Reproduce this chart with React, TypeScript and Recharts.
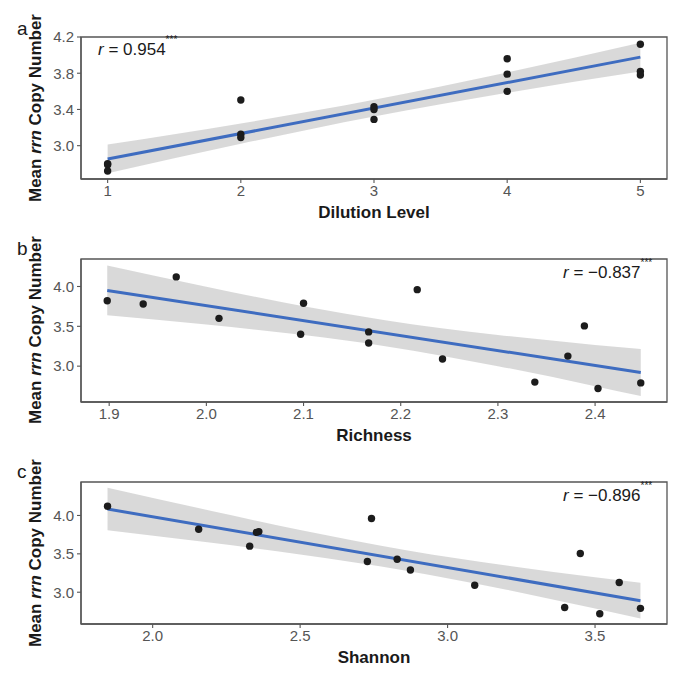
import React from 'react';
import { ComposedChart, XAxis, YAxis, Scatter, Line, Area, ReferenceArea } from 'recharts';

// 15 samples, 3 per dilution level
const dilution = [1, 1, 1, 2, 2, 2, 3, 3, 3, 4, 4, 4, 5, 5, 5];
const richness = [2.338, 2.447, 2.403, 2.389, 2.372, 2.243, 2.167, 2.097, 2.167, 2.217, 2.1, 2.013, 1.969, 1.898, 1.935];
const shannon = [3.397, 3.654, 3.516, 3.45, 3.582, 3.092, 2.829, 2.728, 2.874, 2.742, 2.36, 2.329, 1.847, 2.156, 2.352];
const copyNumber = [2.8, 2.79, 2.72, 3.505, 3.126, 3.09, 3.43, 3.4, 3.29, 3.96, 3.79, 3.6, 4.12, 3.82, 3.78];

// fitted lines (ends) and confidence bands
const fitAX = [1, 5];
const fitAY = [2.853, 3.978];
const bandAX = [1, 2, 3, 4, 5];
const bandALow = [2.695, 3.021, 3.323, 3.584, 3.819];
const bandAHigh = [3.012, 3.245, 3.507, 3.808, 4.137];

const fitBX = [1.898, 2.447];
const fitBY = [3.95, 2.92];
const bandBX = [1.898, 2.0, 2.1, 2.184, 2.3, 2.4, 2.447];
const bandBLow = [3.638, 3.522, 3.39, 3.251, 3.0, 2.749, 2.625];
const bandBHigh = [4.263, 3.996, 3.752, 3.577, 3.392, 3.267, 3.215];

const fitCX = [1.847, 3.654];
const fitCY = [4.084, 2.89];
const bandCX = [1.847, 2.2, 2.5, 2.86, 3.2, 3.5, 3.654];
const bandCLow = [3.806, 3.643, 3.493, 3.281, 3.033, 2.787, 2.657];
const bandCHigh = [4.362, 4.059, 3.811, 3.548, 3.347, 3.195, 3.123];

const ticksA = [1, 2, 3, 4, 5];
const ticksB = [1.9, 2.0, 2.1, 2.2, 2.3, 2.4];
const ticksC = [2.0, 2.5, 3.0, 3.5];
const yTicksA = [3.0, 3.4, 3.8, 4.2];
const yTicksBC = [3.0, 3.5, 4.0];

const FONT = '"Liberation Sans", Arial, sans-serif';
const AXIS = '#555';

const Dot = (p: any) => <circle cx={p.cx} cy={p.cy} r={3.7} fill="#1c1c1c" />;

function Panel(props: any) {
  const { xs, fitX, fitY, bandX, bandLo, bandHi, xDomain, xTicks, yDomain, yTicks, top, height, digits } = props;
  const pts = xs.map((x: number, i: number) => ({ x, y: copyNumber[i] }));
  const fit = fitX.map((x: number, i: number) => ({ x, y: fitY[i] }));
  const band = bandX.map((x: number, i: number) => ({ x, range: [bandLo[i], bandHi[i]] }));
  const tick = { fill: AXIS, fontSize: 15, fontFamily: FONT };
  return (
    <div style={{ position: 'absolute', left: 0, top }}>
      <ComposedChart width={685} height={height} margin={{ top: 37, right: 18, bottom: 0, left: 0 }}>
        <XAxis type="number" dataKey="x" domain={xDomain} ticks={xTicks} allowDataOverflow
          tickFormatter={(v: number) => (digits ? v.toFixed(digits) : String(v))}
          height={21} tick={tick} tickSize={4} tickMargin={2}
          axisLine={{ stroke: AXIS, strokeWidth: 1.3 }} tickLine={{ stroke: AXIS, strokeWidth: 1.1 }} />
        <YAxis type="number" domain={yDomain} ticks={yTicks} allowDataOverflow
          tickFormatter={(v: number) => v.toFixed(1)}
          width={81} tick={tick} tickSize={4} tickMargin={3}
          axisLine={{ stroke: AXIS, strokeWidth: 1.3 }} tickLine={{ stroke: AXIS, strokeWidth: 1.1 }} />
        <Scatter data={pts} dataKey="y" shape={Dot} isAnimationActive={false} />
        <Area data={band} dataKey="range" type="monotone" stroke="none" fill="#999999" fillOpacity={0.37} isAnimationActive={false} />
        <Line data={fit} dataKey="y" type="linear" stroke="#3E6CC0" strokeWidth={3} dot={false} isAnimationActive={false} />
        <ReferenceArea x1={xDomain[0]} x2={xDomain[1]} y1={yDomain[0]} y2={yDomain[1]} fill="none" stroke={AXIS} strokeWidth={1.3} ifOverflow="visible" />
      </ComposedChart>
    </div>
  );
}

function YTitle({ cy }: { cy: number }) {
  return (
    <text transform={`translate(41,${cy}) rotate(-90)`} textAnchor="middle" fontSize={17} fontWeight="bold" fill="#1a1a1a">
      Mean <tspan fontStyle="italic">rrn</tspan> Copy Number
    </text>
  );
}

function RText({ x, y, value }: { x: number; y: number; value: string }) {
  return (
    <text x={x} y={y} fontSize={17} fill="#1a1a1a">
      <tspan fontStyle="italic">r</tspan> = {value}
      <tspan fontSize={10} dy={-12}>***</tspan>
    </text>
  );
}

export default function App() {
  return (
    <div style={{ position: 'absolute', left: 0, top: 0, width: 685, height: 685, background: '#fff', fontFamily: FONT }}>
      <Panel xs={dilution} fitX={fitAX} fitY={fitAY} bandX={bandAX} bandLo={bandALow} bandHi={bandAHigh}
        xDomain={[0.8, 5.2]} xTicks={ticksA} yDomain={[2.632, 4.2]} yTicks={yTicksA} top={0} height={200} digits={0} />
      <Panel xs={richness} fitX={fitBX} fitY={fitBY} bandX={bandBX} bandLo={bandBLow} bandHi={bandBHigh}
        xDomain={[1.871, 2.474]} xTicks={ticksB} yDomain={[2.55, 4.345]} yTicks={yTicksBC} top={222} height={201} digits={1} />
      <Panel xs={shannon} fitX={fitCX} fitY={fitCY} bandX={bandCX} bandLo={bandCLow} bandHi={bandCHigh}
        xDomain={[1.757, 3.744]} xTicks={ticksC} yDomain={[2.586, 4.436]} yTicks={yTicksBC} top={445} height={200} digits={1} />
      <svg width={685} height={685} style={{ position: 'absolute', left: 0, top: 0, pointerEvents: 'none' }} fontFamily={FONT}>
        <text x={17} y={35} fontSize={19} fill="#1a1a1a">a</text>
        <text x={17} y={255} fontSize={19} fill="#1a1a1a">b</text>
        <text x={17} y={478} fontSize={19} fill="#1a1a1a">c</text>
        <YTitle cy={108} />
        <YTitle cy={330} />
        <YTitle cy={553} />
        <text x={374} y={218} textAnchor="middle" fontSize={17} fontWeight="bold" fill="#1a1a1a">Dilution Level</text>
        <text x={374} y={441} textAnchor="middle" fontSize={17} fontWeight="bold" fill="#1a1a1a">Richness</text>
        <text x={374} y={663} textAnchor="middle" fontSize={17} fontWeight="bold" fill="#1a1a1a">Shannon</text>
        <RText x={98} y={55} value="0.954" />
        <RText x={563} y={278} value="−0.837" />
        <RText x={563} y={501} value="−0.896" />
      </svg>
    </div>
  );
}
